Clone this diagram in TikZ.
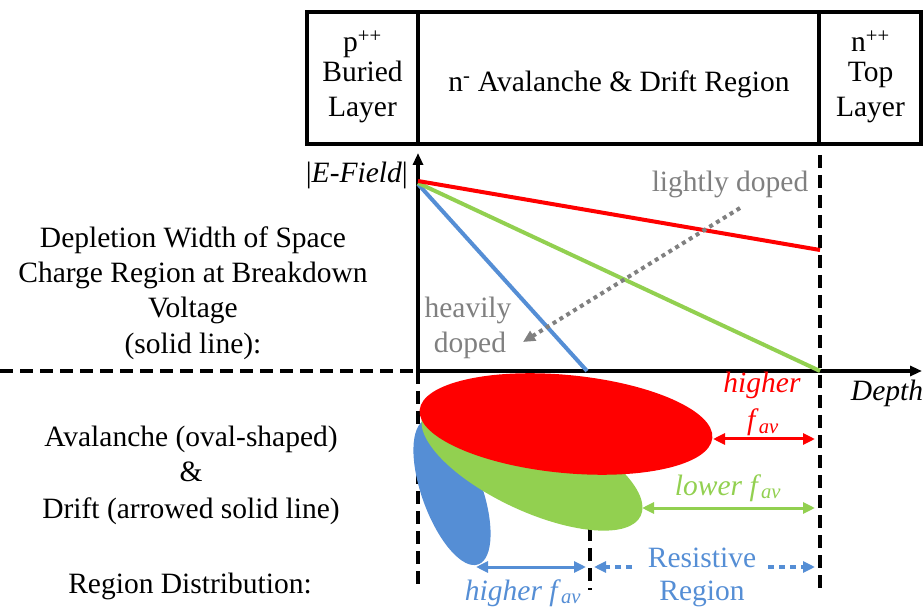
\documentclass[tikz,border=0pt]{standalone}
\usepackage{fontspec}
\setmainfont{Liberation Serif}
\usetikzlibrary{arrows.meta}
\definecolor{cred}{RGB}{255,0,0}
\definecolor{cgreen}{RGB}{146,208,80}
\definecolor{cblue}{RGB}{85,142,213}
\definecolor{cgray}{RGB}{128,128,128}
\newcommand{\fav}{\textit{f}\textsubscript{\textit{av}}}
\begin{document}
\begin{tikzpicture}[x=1pt,y=1pt,
  font=\fontsize{29.5}{35}\selectfont,
  lbl/.style={inner sep=0pt, anchor=base},
  boxline/.style={line width=4pt},
  dashline/.style={line width=4pt, dash pattern=on 13pt off 7pt},
  curve/.style={line width=4pt},
  axis/.style={line width=3.5pt, -{Triangle[length=12pt,width=10pt]}},
  dbl/.style={line width=3pt, {Triangle[length=12pt,width=11pt]}-{Triangle[length=12pt,width=11pt]}},
  dotarr/.style={line width=3.5pt, dash pattern=on 6pt off 5pt, -{Triangle[length=12pt,width=11pt]}},
  grayarr/.style={line width=4pt, cgray, dash pattern=on 4pt off 4pt, -{Triangle[length=12pt,width=11pt]}}
]
\useasboundingbox (0,0) rectangle (924,-609);

% top box
\coordinate (bTL) at (307,-12);
\coordinate (bBR) at (921,-144);
\coordinate (d1t) at (418,-12);
\coordinate (d1b) at (418,-144);
\coordinate (d2t) at (819,-12);
\coordinate (d2b) at (819,-144);
\draw[boxline] (bTL) rectangle (bBR);
\draw[boxline] (d1t) -- (d1b);
\draw[boxline] (d2t) -- (d2b);
\node[lbl] (p1) at (362.5,-52) {p\textsuperscript{++}};
\node[lbl] (p2) at (362.5,-82) {Buried};
\node[lbl] (p3) at (362.5,-117) {Layer};
\node[lbl] (nm) at (619,-92) {n\textsuperscript{-} Avalanche \& Drift Region};
\node[lbl] (n1) at (870.5,-52) {n\textsuperscript{++}};
\node[lbl] (n2) at (870.5,-82) {Top};
\node[lbl] (n3) at (870.5,-117) {Layer};

% axes
\coordinate (O) at (418,-371);
\coordinate (Ytop) at (418,-153);
\coordinate (Ybot) at (418,-376);
\coordinate (Xend) at (922,-371);
\coordinate (Xleft) at (0,-371);
\draw[dashline] (Xleft) -- (O);
\draw[axis] (Ybot) -- (Ytop);
\draw[axis] (O) -- (Xend);
\node[lbl, anchor=base east] (ef) at (408,-183) {|\textit{E-Field}|};
\node[lbl] (dep) at (887,-401) {\textit{Depth}};

% dashed verticals
\coordinate (v1t) at (820,-155);
\coordinate (v1b) at (820,-590);
\coordinate (v2b) at (418,-590);
\coordinate (v3t) at (590,-528);
\coordinate (v3b) at (590,-590);
\draw[dashline] (v1t) -- (v1b);
\draw[dashline] (O) -- (v2b);
\draw[dashline] (v3t) -- (v3b);

% field lines
\coordinate (r0) at (418,-181);
\coordinate (r1) at (820,-250);
\coordinate (g0) at (418,-183);
\coordinate (g1) at (820,-371);
\coordinate (b0) at (418,-184);
\coordinate (b1) at (587,-371);
\draw[curve, cblue] (b0) -- (b1);
\draw[curve, cgreen] (g0) -- (g1);
\draw[curve, cred] (r0) -- (r1);

% doping arrow
\coordinate (ga0) at (740,-208);
\coordinate (ga1) at (523,-342);
\draw[grayarr] (ga0) -- (ga1);
\node[lbl, text=cgray] (ld) at (730,-192) {lightly doped};
\node[lbl, text=cgray] (hd1) at (468,-318) {heavily};
\node[lbl, text=cgray] (hd2) at (470,-353) {doped};

% left labels
\node[lbl] (t1) at (193,-248) {Depletion Width of Space};
\node[lbl] (t2) at (193,-283) {Charge Region at Breakdown};
\node[lbl] (t3) at (193,-318) {Voltage};
\node[lbl] (t4) at (193,-354) {(solid line):};
\node[lbl] (u1) at (191,-447) {Avalanche (oval-shaped)};
\node[lbl] (u2) at (191,-482) {\&};
\node[lbl] (u3) at (191,-518) {Drift (arrowed solid line)};
\node[lbl] (u4) at (190,-593) {Region Distribution:};

% ellipses
\fill[cblue] (452,-492) ellipse [x radius=77pt, y radius=30pt, rotate=-70];
\fill[cgreen] (532,-465) ellipse [x radius=120pt, y radius=46pt, rotate=-25];
\fill[cred] (566,-424) ellipse [x radius=147pt, y radius=49pt, rotate=-5.5];

% drift arrows
\coordinate (ra0) at (713,-439);
\coordinate (ra1) at (815,-439);
\coordinate (gr0) at (642,-508);
\coordinate (gr1) at (815,-508);
\coordinate (ba0) at (476,-567);
\coordinate (ba1) at (586,-567);
\coordinate (bd0) at (632,-567);
\coordinate (bd1) at (594,-567);
\coordinate (bd2) at (768,-567);
\coordinate (bd3) at (815,-567);
\draw[dbl, cred] (ra0) -- (ra1);
\draw[dbl, cgreen] (gr0) -- (gr1);
\draw[dbl, cblue] (ba0) -- (ba1);
\draw[dotarr, cblue] (bd0) -- (bd1);
\draw[dotarr, cblue] (bd2) -- (bd3);

\node[lbl, text=cred] (rh1) at (762,-393) {\textit{higher}};
\node[lbl, text=cred] (rh2) at (763,-430) {\fav};
\node[lbl, text=cgreen] (gl) at (728,-495) {\textit{lower} \fav};
\node[lbl, text=cblue] (bh) at (523,-600) {\textit{higher} \fav};
\node[lbl, text=cblue] (rr1) at (702,-567) {Resistive};
\node[lbl, text=cblue] (rr2) at (702,-600) {Region};
\end{tikzpicture}
\end{document}
